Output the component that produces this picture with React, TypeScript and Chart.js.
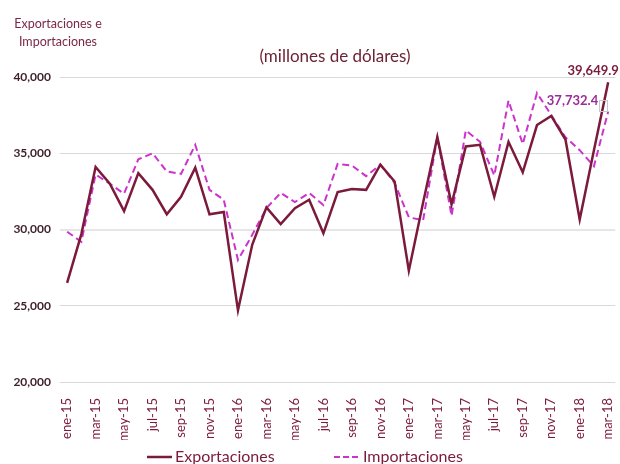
import React, { useEffect, useRef } from "react";
import { Chart, registerables } from "chart.js";
Chart.register(...registerables);

const categories = [
  "ene-15", "feb-15", "mar-15", "abr-15", "may-15", "jun-15", "jul-15", "ago-15", "sep-15", "oct-15", "nov-15", "dic-15",
  "ene-16", "feb-16", "mar-16", "abr-16", "may-16", "jun-16", "jul-16", "ago-16", "sep-16", "oct-16", "nov-16", "dic-16",
  "ene-17", "feb-17", "mar-17", "abr-17", "may-17", "jun-17", "jul-17", "ago-17", "sep-17", "oct-17", "nov-17", "dic-17",
  "ene-18", "feb-18", "mar-18",
];

const exportaciones = [
  26500, 29700, 34100, 33000, 31200, 33700, 32600, 31000, 32150, 34050, 31000, 31150,
  24700, 29000, 31450, 30350, 31400, 31950, 29750, 32450, 32650, 32600, 34250, 33150,
  27300, 31750, 36050, 31650, 35450, 35550, 32150, 35750, 33750, 36850, 37450, 35900,
  30650, 35200, 39649.9,
];

const importaciones = [
  29850, 29200, 33600, 33000, 32350, 34600, 35000, 33800, 33650, 35550, 32600, 31950,
  28000, 29650, 31400, 32400, 31800, 32400, 31600, 34300, 34200, 33500, 34250, 33050,
  30800, 30600, 36050, 30900, 36500, 35750, 33550, 38450, 35600, 38950, 37500, 36050,
  35200, 34150, 37732.4,
];

const yMin = 20000;
const yMax = 40000;
const yStep = 5000;

const FONT = "Lato, 'Open Sans', sans-serif";
const MAROON = "#7b1a3a";
const MAGENTA = "#cc33cc";

const fmt0 = (v: number) => v.toLocaleString("en-US", { maximumFractionDigits: 0 });
const fmt1 = (v: number) => v.toLocaleString("en-US", { minimumFractionDigits: 1, maximumFractionDigits: 1 });

export default function App() {
  const ref = useRef<HTMLCanvasElement>(null);

  useEffect(() => {
    if (!ref.current) return;

    const textPlugin = {
      id: "texts",
      afterDraw(chart: any) {
        const { ctx, scales } = chart;
        const xs = scales.x;
        const ys = scales.y;
        ctx.save();

        // top-left axis title
        ctx.fillStyle = "#7b2747";
        ctx.font = `12.5px ${FONT}`;
        ctx.textAlign = "center";
        ctx.textBaseline = "middle";
        ctx.fillText("Exportaciones e", 58, 24);
        ctx.fillText("Importaciones", 58, 42);

        // subtitle
        ctx.fillStyle = "#6b2335";
        ctx.font = `17px ${FONT}`;
        ctx.fillText("(millones de dólares)", 335, 57);

        // data labels on last points
        const last = categories.length - 1;
        const px = xs.getPixelForValue(last);
        const ey = ys.getPixelForValue(exportaciones[last]);
        const iy = ys.getPixelForValue(importaciones[last]);

        ctx.font = `bold 13px ${FONT}`;
        ctx.fillStyle = MAROON;
        ctx.textAlign = "center";
        ctx.textBaseline = "alphabetic";
        ctx.fillText(fmt1(exportaciones[last]), px - 15, ey - 7);

        ctx.fillStyle = "#9a2d9a";
        ctx.textAlign = "right";
        ctx.textBaseline = "middle";
        ctx.fillText(fmt1(importaciones[last]), px - 10, iy - 11);

        ctx.strokeStyle = "#c8c8c8";
        ctx.lineWidth = 1;
        ctx.strokeRect(Math.round(px - 9) + 0.5, Math.round(iy - 12) + 0.5, 8, 11);

        // legend
        const ly = 457;
        ctx.lineWidth = 2.5;
        ctx.strokeStyle = MAROON;
        ctx.setLineDash([]);
        ctx.beginPath();
        ctx.moveTo(147, ly);
        ctx.lineTo(172, ly);
        ctx.stroke();
        ctx.strokeStyle = MAGENTA;
        ctx.lineWidth = 2;
        ctx.setLineDash([6, 3]);
        ctx.beginPath();
        ctx.moveTo(334, ly);
        ctx.lineTo(360, ly);
        ctx.stroke();
        ctx.setLineDash([]);

        ctx.font = `16px ${FONT}`;
        ctx.fillStyle = MAROON;
        ctx.textAlign = "left";
        ctx.textBaseline = "middle";
        ctx.fillText("Exportaciones", 175, ly);
        ctx.fillText("Importaciones", 363, ly);

        ctx.restore();
      },
    };

    const chart = new Chart(ref.current, {
      type: "line",
      data: {
        labels: categories,
        datasets: [
          {
            label: "Exportaciones",
            data: exportaciones,
            borderColor: MAROON,
            backgroundColor: MAROON,
            borderWidth: 2.5,
            pointRadius: 0,
            tension: 0,
            fill: false,
          },
          {
            label: "Importaciones",
            data: importaciones,
            borderColor: MAGENTA,
            backgroundColor: MAGENTA,
            borderWidth: 2,
            borderDash: [7, 4],
            pointRadius: 0,
            tension: 0,
            fill: false,
          },
        ],
      },
      options: {
        animation: false,
        responsive: false,
        maintainAspectRatio: false,
        layout: { padding: { top: 77, right: 4.7, bottom: 24, left: 0 } },
        plugins: {
          legend: { display: false },
          tooltip: { enabled: false },
          title: { display: false },
        },
        scales: {
          x: {
            offset: true,
            grid: { display: false },
            border: { display: false },
            afterFit: (s: any) => {
              s.height = 58;
              s.paddingLeft = 0;
              s.paddingRight = 0;
            },
            ticks: {
              autoSkip: false,
              maxRotation: 90,
              minRotation: 90,
              padding: 8,
              color: MAROON,
              font: { family: FONT, size: 13 },
              callback: (_v: any, i: number) => (i % 2 === 0 ? categories[i] : ""),
            },
          },
          y: {
            min: yMin,
            max: yMax,
            border: { display: false },
            grid: {
              color: (c: any) => (c.tick && c.tick.value === 30000 ? "#e6e6e6" : "#d9d9d9"),
              lineWidth: (c: any) => (c.tick && c.tick.value === 30000 ? 2 : 1),
              drawTicks: false,
            },
            afterFit: (s: any) => {
              s.width = 60;
              s.paddingTop = 0;
              s.paddingBottom = 0;
            },
            ticks: {
              stepSize: yStep,
              padding: 9,
              color: "#3d1f2b",
              font: { family: FONT, size: 12, weight: "bold" },
              callback: (v: any) => fmt0(Number(v)),
            },
          },
        },
      },
      plugins: [textPlugin],
    });

    return () => chart.destroy();
  }, []);

  return (
    <div style={{ position: "absolute", left: 0, top: 0, width: 620, height: 464, background: "#fff" }}>
      <canvas ref={ref} width={620} height={464} style={{ display: "block", width: 620, height: 464 }} />
    </div>
  );
}
